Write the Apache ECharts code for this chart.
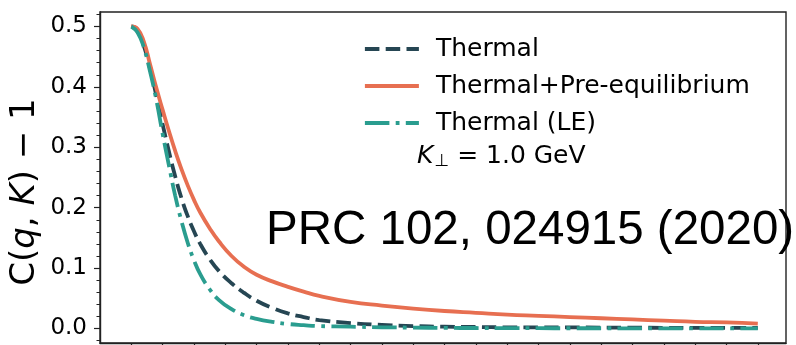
<!DOCTYPE html>
<html>
<head>
<meta charset="utf-8">
<script src="https://cdn.jsdelivr.net/npm/echarts@6/dist/echarts.min.js"></script>
<style>
  html, body { margin: 0; padding: 0; background: #ffffff; }
  #chart { width: 796px; height: 345px; }
</style>
</head>
<body>
<div id="chart"></div>
<script>
// Relative momentum q (MeV)
const q = [0, 2, 4, 6, 8, 10, 12, 14, 16, 18, 20, 22, 25, 28, 32, 36, 40, 45, 50, 55, 60,
           70, 80, 90, 100, 110, 120, 130, 140, 150, 160, 170, 180, 190, 200];

// C(q, K) - 1 for each source model
const thermal = [0.500, 0.494, 0.468, 0.430, 0.385, 0.338, 0.293, 0.252, 0.216, 0.186, 0.161, 0.140,
                 0.115, 0.095, 0.075, 0.059, 0.046, 0.034, 0.025, 0.019, 0.014,
                 0.009, 0.006, 0.004, 0.003, 0.0025, 0.002, 0.002, 0.0018, 0.0015, 0.0013, 0.0012, 0.001, 0.001, 0.001];
const thermalPre = [0.500, 0.496, 0.475, 0.437, 0.398, 0.362, 0.327, 0.294, 0.264, 0.237, 0.213, 0.192,
                    0.166, 0.144, 0.120, 0.102, 0.089, 0.078, 0.069, 0.061, 0.054,
                    0.044, 0.038, 0.033, 0.029, 0.026, 0.023, 0.021, 0.019, 0.017, 0.015, 0.013, 0.011, 0.010, 0.008];
const thermalLE = [0.500, 0.490, 0.465, 0.425, 0.378, 0.322, 0.270, 0.220, 0.178, 0.142, 0.113, 0.090,
                   0.065, 0.047, 0.032, 0.022, 0.016, 0.011, 0.0075, 0.0055, 0.004,
                   0.003, 0.002, 0.0015, 0.001, 0.0008, 0.0006, 0.0005, 0.0004, 0.0004, 0.0003, 0.0003, 0.0003, 0.0003, 0.0003];

// Axis ticks
const xTicks = [0, 10, 20, 30, 40, 50, 60, 70, 80, 90, 100, 110, 120, 130, 140, 150, 160, 170, 180, 190, 200];
const yMajorTicks = [0, 0.1, 0.2, 0.3, 0.4, 0.5];
const yMinorTicks = [-0.02, 0, 0.02, 0.04, 0.06, 0.08, 0.1, 0.12, 0.14, 0.16, 0.18, 0.2, 0.22, 0.24, 0.26,
                     0.28, 0.3, 0.32, 0.34, 0.36, 0.38, 0.4, 0.42, 0.44, 0.46, 0.48, 0.5, 0.52];

const seriesNames = ['Thermal', 'Thermal+Pre-equilibrium', 'Thermal (LE)'];
const colors = ['#264653', '#e76f51', '#2a9d8f'];

const pairs = (ys) => q.map((x, i) => [x, ys[i]]);

const chart = echarts.init(document.getElementById('chart'), null, { renderer: 'canvas' });

const axisColor = '#222222';
const font = 'DejaVu Sans';
const lineWidth = 3.8;

chart.setOption({
  animation: false,
  backgroundColor: '#ffffff',
  grid: {
    left: 100, top: 12, width: 686, height: 331,
    show: true, borderColor: axisColor, borderWidth: 1.4, backgroundColor: 'transparent'
  },
  legend: {
    orient: 'vertical',
    left: 358, top: 29,
    itemWidth: 54, itemHeight: 14, itemGap: 7,
    data: seriesNames,
    itemStyle: { opacity: 0 },
    lineStyle: { width: lineWidth },
    textStyle: { fontFamily: font, fontSize: 25, color: '#000', lineHeight: 30, padding: [0, 0, 0, 12] }
  },
  xAxis: {
    type: 'value', min: -10, max: 209,
    axisLine: { show: true, onZero: false, lineStyle: { color: axisColor, width: 1.4 } },
    axisTick: { show: true, inside: false, length: 5, customValues: xTicks, lineStyle: { color: axisColor, width: 1.2 } },
    axisLabel: { show: false },
    splitLine: { show: false }
  },
  yAxis: [
    {
      type: 'value', min: -0.024, max: 0.524, position: 'left',
      axisLine: { show: true, onZero: false, lineStyle: { color: axisColor, width: 1.4 } },
      axisTick: { show: true, length: 6, customValues: yMajorTicks, lineStyle: { color: axisColor, width: 1.2 } },
      axisLabel: {
        customValues: yMajorTicks, margin: 13,
        formatter: (v) => v.toFixed(1),
        fontFamily: font, fontSize: 23, color: '#000'
      },
      splitLine: { show: false }
    },
    {
      type: 'value', min: -0.024, max: 0.524, position: 'left', offset: 0,
      axisLine: { show: false, onZero: false },
      axisTick: { show: true, length: 3.5, customValues: yMinorTicks, lineStyle: { color: axisColor, width: 1 } },
      axisLabel: { show: false },
      splitLine: { show: false }
    }
  ],
  series: [
    {
      name: seriesNames[0], type: 'line', data: pairs(thermal),
      smooth: true, showSymbol: false, symbol: 'none',
      lineStyle: { color: colors[0], width: lineWidth, type: [14.5, 6.3], cap: 'butt' },
      itemStyle: { color: colors[0] }
    },
    {
      name: seriesNames[1], type: 'line', data: pairs(thermalPre),
      smooth: true, showSymbol: false, symbol: 'none',
      lineStyle: { color: colors[1], width: lineWidth, type: 'solid' },
      itemStyle: { color: colors[1] }
    },
    {
      name: seriesNames[2], type: 'line', data: pairs(thermalLE),
      smooth: true, showSymbol: false, symbol: 'none',
      lineStyle: { color: colors[2], width: lineWidth, type: [24.5, 6.3, 3.8, 6.3], cap: 'butt' },
      itemStyle: { color: colors[2] }
    }
  ],
  graphic: [
    {
      type: 'text', x: 25, y: 192, rotation: Math.PI / 2,
      style: {
        text: '{n|C(}{i|q}{n|, }{i|K}{n|) − 1}',
        align: 'center', verticalAlign: 'middle',
        rich: {
          n: { fontFamily: font, fontSize: 34, fill: '#000' },
          i: { fontFamily: font, fontSize: 34, fontStyle: 'italic', fill: '#000' }
        }
      }
    },
    {
      type: 'text', x: 417, y: 156,
      style: {
        text: '{i|K}{s|⊥}{n| = 1.0 GeV}',
        align: 'left', verticalAlign: 'middle',
        rich: {
          i: { fontFamily: font, fontSize: 25, fontStyle: 'italic', fill: '#000' },
          s: { fontFamily: font, fontSize: 17, fill: '#000', padding: [12, 0, 0, 1] },
          n: { fontFamily: font, fontSize: 25, fill: '#000' }
        }
      }
    },
    {
      type: 'text', x: 266, y: 231,
      style: {
        text: 'PRC 102, 024915 (2020)',
        align: 'left', verticalAlign: 'middle',
        fontFamily: 'Liberation Sans', fontSize: 47.5, fill: '#000'
      }
    }
  ]
});
</script>
</body>
</html>
